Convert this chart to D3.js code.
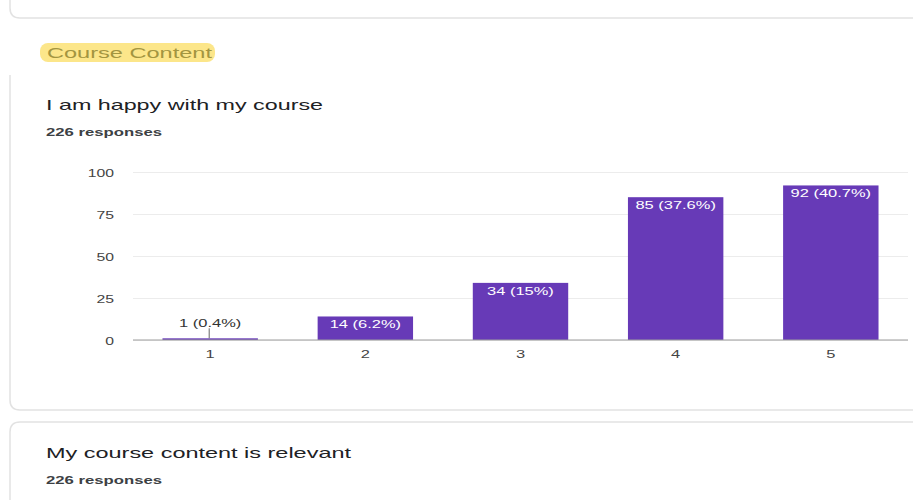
<!DOCTYPE html>
<html>
<head>
<meta charset="utf-8">
<script src="https://cdn.jsdelivr.net/npm/d3@7"></script>
<style>
  body { margin: 0; background: #fff; }
  svg text { font-family: "Liberation Sans", Arial, sans-serif; }
  .grid line { stroke: #ececec; }
  .grid .domain { display: none; }
</style>
</head>
<body>
<svg id="chart" width="913" height="500"></svg>
<script>
// data
const categories = ["1", "2", "3", "4", "5"];
const counts = [1, 14, 34, 85, 92];
const pctLabels = ["0.4%", "6.2%", "15%", "37.6%", "40.7%"];
const yTicks = [0, 25, 50, 75, 100];

const svg = d3.select("#chart");

// the screenshot is stretched sideways, so widen text to match
function stretch(sel, k) {
  sel.each(function () {
    const w = this.getComputedTextLength();
    d3.select(this).attr("textLength", w * k).attr("lengthAdjust", "spacingAndGlyphs");
  });
  return sel;
}

// cards
const cardStroke = (p) =>
  svg.append("path").attr("d", p).attr("fill", "none")
    .attr("stroke", "#e2e2e2").attr("stroke-width", 1.5);
cardStroke("M 10 -20 L 10 8 Q 10 18 20 18 L 930 18");
cardStroke("M 10 75 L 10 400 Q 10 410 20 410 L 930 410");
cardStroke("M 10 520 L 10 432 Q 10 422 20 422 L 930 422");

// section header with highlight
svg.append("rect")
  .attr("x", 40).attr("y", 43).attr("width", 175).attr("height", 19)
  .attr("rx", 8).attr("fill", "#fce68a");
svg.append("text")
  .attr("x", 47).attr("y", 58)
  .attr("font-size", 14).attr("fill", "#a39540")
  .attr("textLength", 165).attr("lengthAdjust", "spacingAndGlyphs")
  .text("Course Content");

// question titles
function question(title, titleLen, yTitle, yResp) {
  svg.append("text")
    .attr("x", 46).attr("y", yTitle).attr("font-size", 14.5).attr("fill", "#202124")
    .attr("textLength", titleLen).attr("lengthAdjust", "spacingAndGlyphs")
    .text(title);
  svg.append("text")
    .attr("x", 46).attr("y", yResp).attr("font-size", 11).attr("font-weight", 700)
    .attr("fill", "#3c4043")
    .attr("textLength", 116).attr("lengthAdjust", "spacingAndGlyphs")
    .text("226 responses");
}
question("I am happy with my course", 277, 110, 136);
question("My course content is relevant", 305, 458, 484);

// scales
const x = d3.scaleBand().domain(categories).range([133, 908]).paddingInner(0.385).paddingOuter(0.19);
const y = d3.scaleLinear().domain([0, 100]).range([340, 172]);

// grid
svg.append("g").attr("class", "grid")
  .attr("transform", "translate(133,0)")
  .call(d3.axisLeft(y).tickValues(yTicks).tickSize(-775).tickFormat(""));

// y labels
stretch(
  svg.append("g").selectAll("text").data(yTicks).join("text")
    .attr("x", 114).attr("y", (d) => y(d) + 4.5)
    .attr("text-anchor", "end").attr("font-size", 10.5).attr("fill", "#444")
    .text((d) => d),
  1.5
);

// bars
const data = categories.map((c, i) => ({ c, v: counts[i], p: pctLabels[i] }));
svg.append("g").selectAll("rect").data(data).join("rect")
  .attr("x", (d) => x(d.c)).attr("width", x.bandwidth())
  .attr("y", (d) => y(d.v)).attr("height", (d) => y(0) - y(d.v))
  .attr("fill", "#673ab7");

// baseline
svg.append("line")
  .attr("x1", 133).attr("x2", 908).attr("y1", y(0)).attr("y2", y(0))
  .attr("stroke", "#9e9e9e").attr("stroke-width", 1.2);

// value labels
data.forEach((d) => {
  const cx = x(d.c) + x.bandwidth() / 2;
  const inside = y(0) - y(d.v) > 18;
  let t;
  if (inside) {
    t = svg.append("text")
      .attr("x", cx).attr("y", y(d.v) + 12)
      .attr("text-anchor", "middle").attr("font-size", 11.5).attr("fill", "#fff")
      .text(`${d.v} (${d.p})`);
  } else {
    svg.append("line")
      .attr("x1", cx - 1).attr("x2", cx - 1).attr("y1", y(d.v)).attr("y2", y(d.v) - 10)
      .attr("stroke", "#666").attr("stroke-width", 1);
    t = svg.append("text")
      .attr("x", cx).attr("y", y(d.v) - 11)
      .attr("text-anchor", "middle").attr("font-size", 11.5).attr("fill", "#333")
      .text(`${d.v} (${d.p})`);
  }
  stretch(t, 1.43);
});

// x labels
stretch(
  svg.append("g").selectAll("text").data(categories).join("text")
    .attr("x", (d) => x(d) + x.bandwidth() / 2).attr("y", 358)
    .attr("text-anchor", "middle").attr("font-size", 11.5).attr("fill", "#444")
    .text((d) => d),
  1.43
);
</script>
</body>
</html>
